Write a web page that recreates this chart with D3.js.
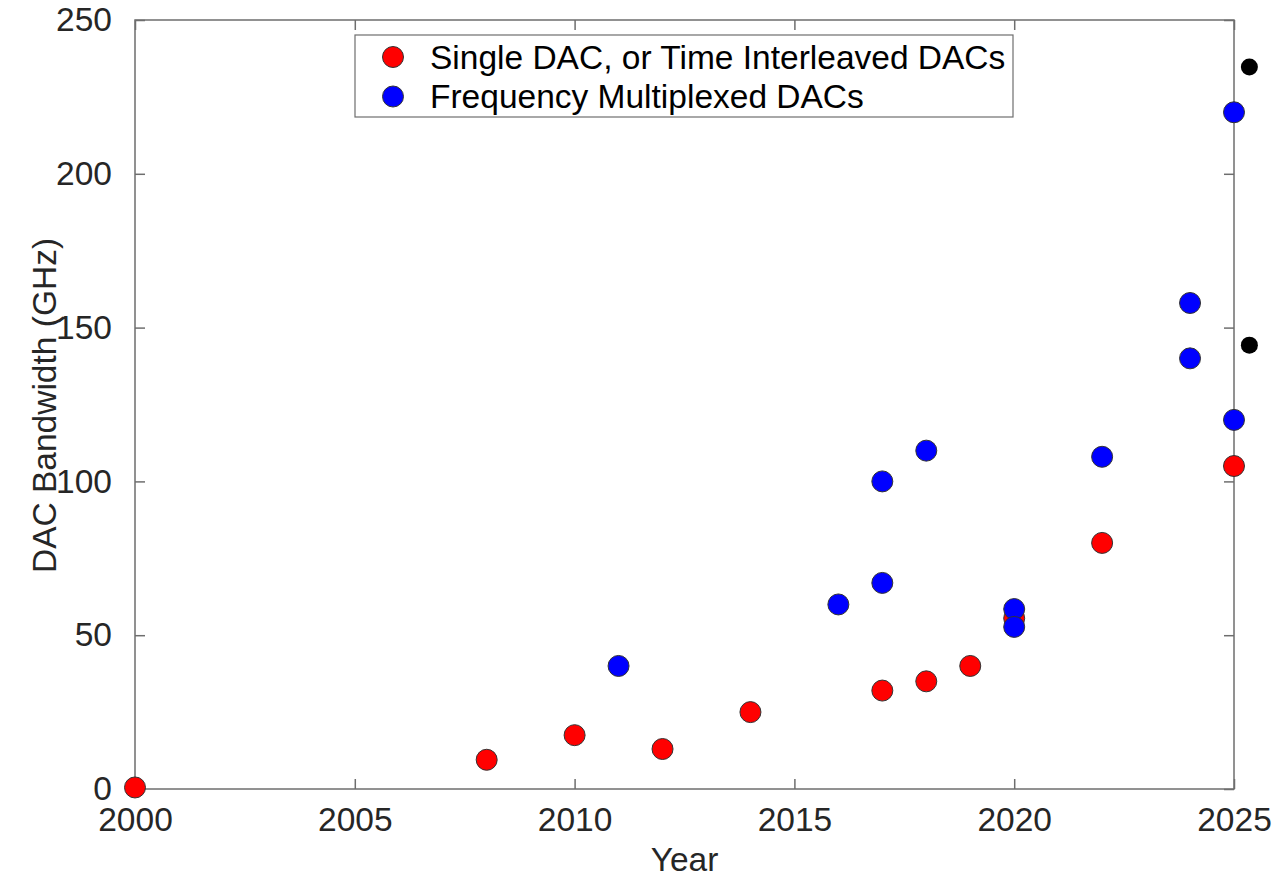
<!DOCTYPE html>
<html>
<head>
<meta charset="utf-8">
<script src="https://cdn.jsdelivr.net/npm/d3@7"></script>
<style>
  html, body { margin: 0; padding: 0; background: #fff; }
  svg { display: block; font-family: "Liberation Sans", Arial, sans-serif; }
</style>
</head>
<body>
<svg id="chart" width="1280" height="877"></svg>
<script>
// ---- data ----
const singleYears  = [2000, 2008, 2010, 2012, 2014, 2017, 2018, 2019, 2020, 2022, 2025];
const singleValues = [0.5, 9.5, 17.5, 13, 25, 32, 35, 40, 55.5, 80, 105];

const fmuxYears  = [2011, 2016, 2017, 2017, 2018, 2020, 2020, 2022, 2024, 2024, 2025, 2025];
const fmuxValues = [40, 60, 67, 100, 110, 58.5, 52.7, 108, 158, 140, 120, 220];

const extraYears  = [2025.35, 2025.35];
const extraValues = [234.7, 144.3];

const xTicks = [2000, 2005, 2010, 2015, 2020, 2025];
const yTicks = [0, 50, 100, 150, 200, 250];

const seriesNames = ["Single DAC, or Time Interleaved DACs", "Frequency Multiplexed DACs"];
const seriesColors = ["#ff0000", "#0000ff"];

// ---- layout ----
const plotL = 135, plotR = 1234, plotT = 20, plotB = 789;
const svg = d3.select("#chart");
const x = d3.scaleLinear().domain([2000, 2025]).range([plotL, plotR]);
const y = d3.scaleLinear().domain([0, 250]).range([plotB, plotT]);

const axisColor = "#6e6e6e";
const textColor = "#262626";
const fontSize = 33.5;
const tickLen = 10;

// box
svg.append("rect")
  .attr("x", plotL).attr("y", plotT)
  .attr("width", plotR - plotL).attr("height", plotB - plotT)
  .attr("fill", "none").attr("stroke", axisColor).attr("stroke-width", 1.5);

function styleAxis(g) {
  g.select(".domain").remove();
  g.selectAll(".tick line").attr("stroke", axisColor).attr("stroke-width", 1.5);
  g.selectAll(".tick text").attr("fill", textColor)
    .style("font-size", fontSize + "px")
    .style("font-family", '"Liberation Sans", Arial, sans-serif');
}

svg.append("g").attr("transform", `translate(0,${plotB})`)
  .call(d3.axisBottom(x).tickValues(xTicks).tickFormat(d3.format("d"))
        .tickSizeInner(-tickLen).tickSizeOuter(0).tickPadding(18))
  .call(styleAxis);

svg.append("g").attr("transform", `translate(0,${plotT})`)
  .call(d3.axisTop(x).tickValues(xTicks).tickFormat("").tickSizeInner(-tickLen).tickSizeOuter(0))
  .call(styleAxis);

svg.append("g").attr("transform", `translate(${plotL},0)`)
  .call(d3.axisLeft(y).tickValues(yTicks).tickFormat(d3.format("d"))
        .tickSizeInner(-tickLen).tickSizeOuter(0).tickPadding(23))
  .call(styleAxis);

svg.append("g").attr("transform", `translate(${plotR},0)`)
  .call(d3.axisRight(y).tickValues(yTicks).tickFormat("").tickSizeInner(-tickLen).tickSizeOuter(0))
  .call(styleAxis);

// axis labels
svg.append("text")
  .attr("x", x(2012.5)).attr("y", 871)
  .attr("text-anchor", "middle").attr("fill", textColor)
  .style("font-size", fontSize + "px").text("Year");

svg.append("text")
  .attr("transform", `translate(56,${y(125) + 1}) rotate(-90)`)
  .attr("text-anchor", "middle").attr("fill", textColor)
  .style("font-size", fontSize + "px").text("DAC Bandwidth (GHz)");

// markers
const r = 10.5;
svg.append("g").selectAll("circle").data(singleYears.map((d, i) => [d, singleValues[i]]))
  .join("circle")
  .attr("cx", d => x(d[0])).attr("cy", d => y(d[1])).attr("r", r)
  .attr("fill", seriesColors[0]).attr("stroke", "#333").attr("stroke-width", 1);

svg.append("g").selectAll("circle").data(fmuxYears.map((d, i) => [d, fmuxValues[i]]))
  .join("circle")
  .attr("cx", d => x(d[0])).attr("cy", d => y(d[1])).attr("r", r)
  .attr("fill", seriesColors[1]).attr("stroke", "#333").attr("stroke-width", 1);

svg.append("g").selectAll("circle").data(extraYears.map((d, i) => [d, extraValues[i]]))
  .join("circle")
  .attr("cx", d => x(d[0])).attr("cy", d => y(d[1])).attr("r", 8.5)
  .attr("fill", "#000");

// legend
const lg = svg.append("g");
lg.append("rect").attr("x", 355).attr("y", 35).attr("width", 658).attr("height", 82)
  .attr("fill", "#fff").attr("stroke", axisColor).attr("stroke-width", 1.2);
seriesNames.forEach((name, i) => {
  const cy = 57 + i * 39.5;
  lg.append("circle").attr("cx", 393).attr("cy", cy).attr("r", r)
    .attr("fill", seriesColors[i]).attr("stroke", "#333").attr("stroke-width", 1);
  lg.append("text").attr("x", 430).attr("y", cy + 11.5)
    .attr("fill", "#000").style("font-size", fontSize + "px").text(name);
});
</script>
</body>
</html>
